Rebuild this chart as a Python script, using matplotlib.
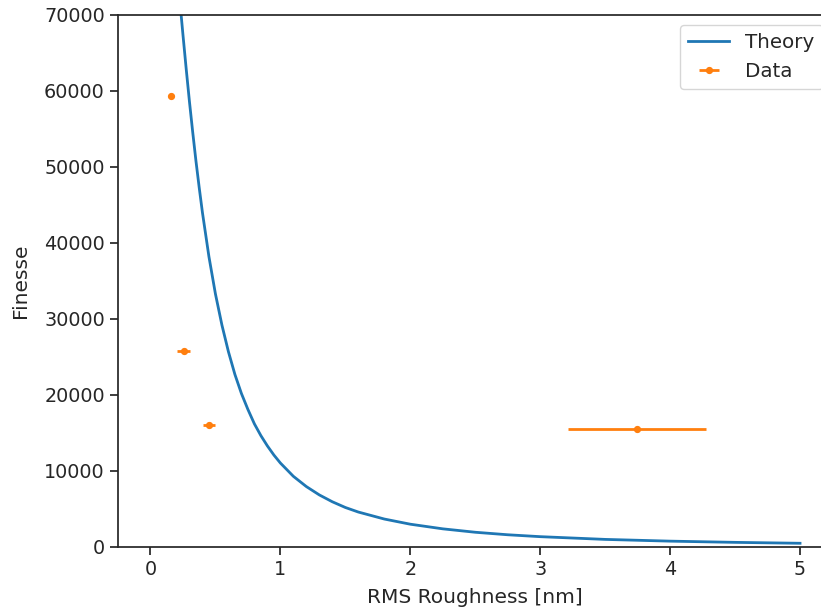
import numpy as np
import matplotlib
matplotlib.use('Agg')
import matplotlib.pyplot as plt

# DATA ------------------------------------------------------------------------------------------>
# theory curve (roughness in nm, finesse)
theory_x = [0.236, 0.25, 0.275, 0.30, 0.325, 0.35, 0.375, 0.40, 0.45, 0.50, 0.55, 0.60,
            0.65, 0.70, 0.75, 0.80, 0.85, 0.90, 0.95, 1.0, 1.1, 1.2, 1.3, 1.4, 1.5, 1.6,
            1.8, 2.0, 2.25, 2.5, 2.75, 3.0, 3.5, 4.0, 4.5, 5.0]
theory_f = [70000, 67400, 62900, 58600, 54600, 50800, 47300, 44000, 38200, 33300, 29200, 25700,
            22700, 20200, 18100, 16200, 14650, 13300, 12100, 11050, 9300, 7950, 6850, 5950,
            5200, 4600, 3680, 3000, 2390, 1940, 1610, 1360, 1000, 770, 610, 490]

# measured points
data_x = [0.16, 0.258, 0.45, 3.743]
data_xerr = [0.01, 0.05, 0.045, 0.53]
data_f = [59400, 25800, 16000, 15530]

x_ticks = [0, 1, 2, 3, 4, 5]
y_ticks = [0, 10000, 20000, 30000, 40000, 50000, 60000, 70000]

# STYLE ----------------------------------------------------------------------------------------->
dark = '#262626'
plt.rcParams['font.family'] = ['DejaVu Sans']
plt.rcParams['text.color'] = dark
plt.rcParams['axes.labelcolor'] = dark
plt.rcParams['xtick.color'] = dark
plt.rcParams['ytick.color'] = dark
plt.rcParams['axes.edgecolor'] = dark
plt.rcParams['axes.linewidth'] = 1.25
plt.rcParams['xtick.major.size'] = 6
plt.rcParams['ytick.major.size'] = 6
plt.rcParams['xtick.major.width'] = 1.25
plt.rcParams['ytick.major.width'] = 1.25

# PLOT ------------------------------------------------------------------------------------------>
fig = plt.figure(figsize=(8.21, 6.12), dpi=100)
ax = fig.add_axes([118/821, 65/612, 714.5/821, 532/612])

ax.plot(theory_x, theory_f, color='#1f77b4', lw=2, label='Theory')
ax.errorbar(data_x, data_f, xerr=data_xerr, fmt='o', color='#ff7f0e', ms=4.2,
            elinewidth=2, capsize=0, label='Data')

ax.set_xlim(-0.25, 5.25)
ax.set_ylim(0, 70000)
ax.set_xticks(x_ticks)
ax.set_yticks(y_ticks)
ax.tick_params(labelsize=13.75)
ax.set_xlabel('RMS Roughness [nm]', fontsize=14.5, labelpad=6)
ax.set_ylabel('Finesse', fontsize=14.5, labelpad=10)
ax.legend(loc='upper right', fontsize=14.3, handlelength=2.1)

fig.savefig('out.png', dpi=100)
